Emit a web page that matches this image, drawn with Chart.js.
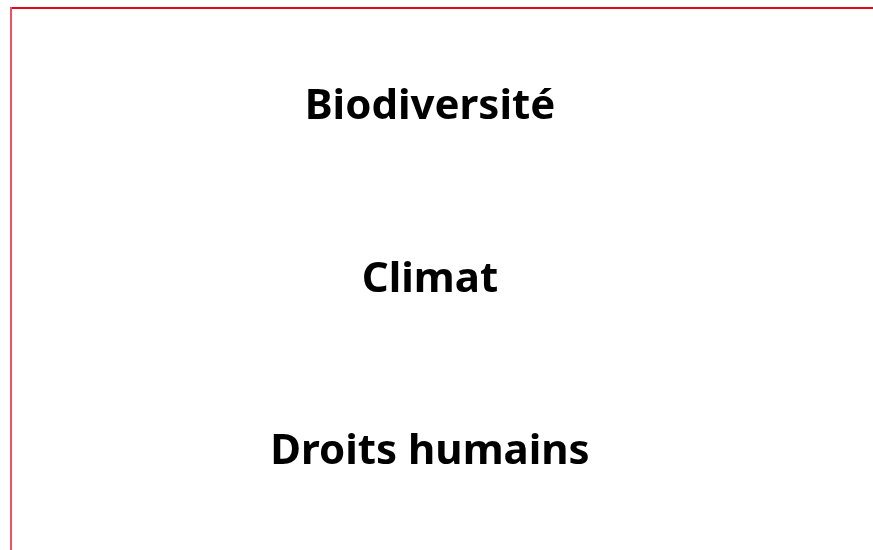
<!DOCTYPE html>
<html lang="fr">
<head>
  <meta charset="UTF-8" />
  <title>Thèmes</title>
  <script src="https://cdn.jsdelivr.net/npm/chart.js"></script>
  <style>
    html, body { margin: 0; padding: 0; background: #fff; }
    #wrap { width: 873px; height: 550px; }
  </style>
</head>
<body>
  <div id="wrap"><canvas id="themesChart"></canvas></div>

  <script>
    const categories = ['Biodiversité', 'Climat', 'Droits humains'];
    const values = [0, 0, 0];

    // draws the category names centred across the plot, on the y scale positions
    const centreLabels = {
      id: 'centreLabels',
      afterDraw(chart) {
        const ctx = chart.ctx;
        const area = chart.chartArea;
        const y = chart.scales.y;
        ctx.save();
        ctx.font = 'bold 42px "Noto Sans"';
        ctx.fillStyle = '#000';
        ctx.textAlign = 'center';
        ctx.textBaseline = 'middle';
        const cx = (area.left + area.right) / 2 - 12;
        categories.forEach((c, i) => {
          ctx.fillText(c, cx, y.getPixelForValue(i));
        });
        ctx.restore();
      }
    };

    new Chart(document.getElementById('themesChart'), {
      type: 'bar',
      data: {
        labels: categories,
        datasets: [{
          data: values.map((v, i) => ({ x: v, y: i })),
          backgroundColor: '#e30613'
        }]
      },
      options: {
        indexAxis: 'y',
        responsive: true,
        maintainAspectRatio: false,
        animation: false,
        layout: { padding: { top: 8, left: 11, right: 0, bottom: 0 } },
        plugins: { legend: { display: false }, tooltip: { enabled: false } },
        scales: {
          x: {
            position: 'top',
            min: 0, max: 1,
            grid: { display: false, drawTicks: false },
            ticks: { display: false },
            border: { display: true, color: '#e4061b', width: 2 }
          },
          y: {
            type: 'linear',
            reverse: true,
            offset: false,
            min: -0.576, max: 2.566,
            grid: { display: false, drawTicks: false },
            ticks: { display: false },
            border: { display: true, color: '#ec5266', width: 2 }
          }
        }
      },
      plugins: [centreLabels]
    });
  </script>
</body>
</html>
